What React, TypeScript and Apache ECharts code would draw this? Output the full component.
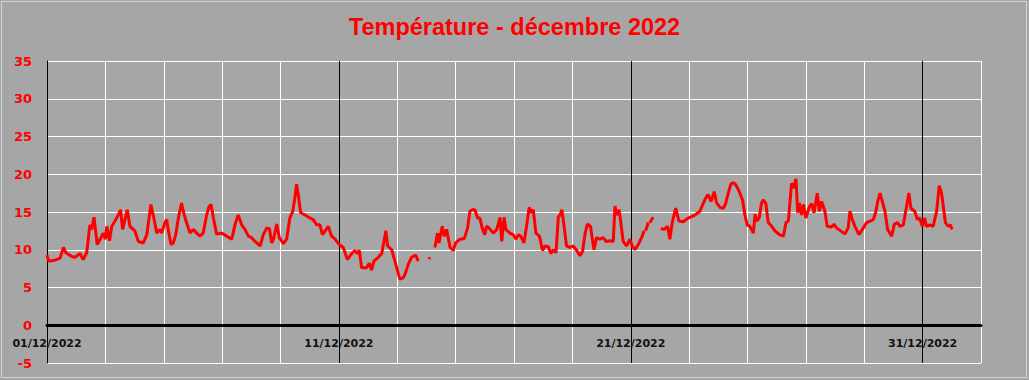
import React, { useEffect, useRef } from "react";
import * as echarts from "echarts";

const TITLE = "Température - décembre 2022";

// x positions in days since 01/12/2022 00:00
const xTickDays = [0, 10, 20, 30];
const xTickLabels = ["01/12/2022", "11/12/2022", "21/12/2022", "31/12/2022"];

const days = [
  0.0, 0.05, 0.1, 0.25, 0.45, 0.56, 0.65, 0.73, 0.85, 0.96, 1.13, 1.24, 1.36, 1.47, 1.53, 1.61, 1.72, 1.82, 1.93, 2.0,
  2.05, 2.14, 2.22, 2.33, 2.44, 2.52, 2.59, 2.75, 2.84, 3.01, 3.13, 3.3, 3.42, 3.56, 3.66, 3.76, 3.87, 3.93, 4.04, 4.1,
  4.16, 4.25, 4.33, 4.41, 4.5, 4.61, 4.67, 4.78, 4.9, 5.01, 5.13, 5.24, 5.35, 5.47, 5.55, 5.62, 5.7, 5.81, 5.98, 6.16,
  6.33, 6.44, 6.55, 6.67, 6.78, 6.9, 7.01, 7.13, 7.3, 7.41, 7.53, 7.62, 7.7, 7.76, 7.87, 7.96, 8.1, 8.21, 8.32, 8.42,
  8.49, 8.55, 8.61, 8.69, 8.84, 9.01, 9.12, 9.24, 9.35, 9.44, 9.64, 9.75, 9.87, 10.01, 10.15, 10.29, 10.44, 10.55, 10.62, 10.7,
  10.78, 10.95, 11.04, 11.12, 11.2, 11.35, 11.47, 11.61, 11.67, 11.81, 11.92, 12.01, 12.09, 12.21, 12.29, 12.38, 12.49, 12.63, 12.72, 12.9,
  13.08, 13.12, 13.2, 13.29, 13.38, 13.43, 13.54, 13.61, 13.69, 13.81, 13.92, 14.0, 14.15, 14.3, 14.41, 14.49, 14.57, 14.66, 14.75, 14.83,
  14.91, 15.0, 15.06, 15.14, 15.29, 15.41, 15.52, 15.58, 15.66, 15.72, 15.86, 15.97, 16.07, 16.15, 16.23, 16.34, 16.43, 16.52, 16.6, 16.66,
  16.75, 16.87, 16.98, 17.06, 17.18, 17.26, 17.35, 17.44, 17.52, 17.58, 17.64, 17.71, 17.8, 17.92, 18.03, 18.15, 18.26, 18.35, 18.43, 18.51,
  18.62, 18.74, 18.83, 18.94, 19.06, 19.15, 19.29, 19.4, 19.46, 19.52, 19.6, 19.66, 19.74, 19.86, 19.97, 20.05, 20.14, 20.26, 20.37, 20.46,
  20.48, 20.51, 20.6, 20.62, 20.65, 20.77, 20.9, 21.03, 21.14, 21.26, 21.34, 21.42, 21.54, 21.65, 21.8, 21.97, 22.2, 22.37, 22.48, 22.56,
  22.65, 22.75, 22.86, 22.94, 23.06, 23.17, 23.25, 23.34, 23.43, 23.52, 23.6, 23.72, 23.83, 23.91, 23.99, 24.08, 24.2, 24.26, 24.32, 24.4,
  24.48, 24.55, 24.63, 24.71, 24.83, 24.94, 25.09, 25.23, 25.32, 25.4, 25.51, 25.58, 25.66, 25.72, 25.78, 25.85, 25.92, 26.0, 26.12, 26.2,
  26.28, 26.39, 26.46, 26.54, 26.65, 26.73, 26.88, 26.96, 27.05, 27.19, 27.34, 27.45, 27.51, 27.59, 27.68, 27.82, 27.97, 28.08, 28.2, 28.31,
  28.39, 28.46, 28.54, 28.62, 28.71, 28.8, 28.94, 29.03, 29.14, 29.22, 29.34, 29.42, 29.53, 29.6, 29.73, 29.82, 29.9, 29.99, 30.07, 30.13,
  30.25, 30.36, 30.48, 30.57, 30.65, 30.7, 30.78, 30.88, 30.95, 31.01,
];

const temps = [
  9.3, 8.6, 8.5, 8.6, 8.9, 10.3, 9.6, 9.4, 9.1, 9.0, 9.5, 8.7, 9.6, 13.3, 12.7, 14.3, 10.7, 11.4, 12.2, 11.4,
  13.1, 11.2, 13.1, 13.8, 14.6, 15.3, 12.7, 15.3, 13.1, 12.5, 11.1, 10.9, 12.0, 16.0, 14.2, 12.2, 12.7, 12.2, 13.6, 14.0,
  12.5, 10.7, 10.9, 12.0, 14.2, 16.2, 15.1, 13.6, 12.2, 12.7, 12.2, 11.8, 12.2, 14.6, 15.7, 16.0, 14.2, 12.1, 12.2, 11.8,
  11.4, 13.3, 14.6, 13.3, 12.7, 11.8, 11.6, 11.1, 10.5, 12.0, 12.9, 12.8, 10.9, 11.4, 13.4, 11.6, 10.8, 11.4, 14.2, 15.1,
  16.8, 18.7, 17.3, 14.9, 14.6, 14.2, 14.0, 13.3, 13.3, 12.0, 13.1, 11.8, 11.4, 10.7, 10.3, 8.7, 9.5, 9.9, 9.5, 9.9,
  7.6, 7.6, 8.2, 7.3, 8.5, 9.0, 9.5, 12.5, 10.5, 10.0, 8.5, 7.2, 6.1, 6.3, 7.0, 8.1, 9.0, 9.3, 8.5, null,
  8.8, 9.0, null, 10.3, 12.2, 10.9, 13.1, 11.8, 12.7, 10.3, 9.9, 10.9, 11.4, 11.5, 12.9, 15.1, 15.3, 15.3, 14.2, 14.2,
  12.9, 12.0, 13.1, 12.9, 12.2, 12.7, 14.3, 11.1, 14.3, 12.7, 12.2, 12.0, 11.4, 12.0, 11.8, 10.9, 13.1, 15.6, 14.9, 15.3,
  12.2, 11.8, 9.9, 10.5, 10.4, 9.5, 10.0, 9.6, 14.4, 14.6, 15.3, 13.3, 10.5, 10.3, 10.5, 9.9, 9.2, 9.8, 12.0, 13.4,
  13.1, 10.0, 11.6, 11.4, 11.6, 11.1, 11.2, 11.1, 15.8, 14.6, 15.3, 13.6, 11.1, 10.5, 11.4, 10.5, 10.0, 10.7, 11.6, 12.5,
  null, 12.5, 13.6, null, 13.6, 14.3, null, 12.8, 12.7, 13.1, 11.4, 13.6, 15.5, 13.8, 13.7, 14.2, 14.6, 15.1, 16.1, 16.8,
  17.3, 16.4, 17.7, 16.2, 15.6, 15.5, 16.1, 17.5, 18.7, 18.9, 18.6, 17.7, 16.6, 14.6, 13.3, 13.1, 12.2, 14.7, 13.8, 14.2,
  16.2, 16.6, 16.1, 13.6, 13.1, 12.5, 12.0, 11.8, 13.6, 13.8, 18.8, 18.2, 19.4, 14.9, 16.2, 14.6, 16.0, 14.2, 15.7, 16.1,
  14.9, 17.5, 15.1, 16.4, 15.1, 13.1, 13.0, 13.4, 12.9, 12.5, 12.1, 12.9, 15.1, 14.0, 13.1, 12.0, 12.9, 13.6, 13.8, 14.0,
  14.9, 16.4, 17.5, 16.4, 15.1, 12.7, 11.8, 13.4, 13.6, 13.1, 13.3, 15.1, 17.5, 15.5, 15.1, 14.0, 14.2, 13.1, 14.2, 13.1,
  13.3, 13.1, 15.1, 18.5, 17.5, 16.0, 13.6, 13.1, 13.3, 12.7,
];

export default function App() {
  const ref = useRef<HTMLDivElement>(null);

  useEffect(() => {
    document.body.style.margin = "0";
    if (!ref.current) return;
    const chart = echarts.init(ref.current, undefined, { renderer: "svg" });
    const data = days.map((d, i) => [d, temps[i] === null ? "-" : temps[i]]);
    const labelFormatter = (v: number) => {
      const idx = xTickDays.indexOf(v);
      return idx >= 0 ? xTickLabels[idx] : "";
    };
    const option: any = {
      animation: false,
      backgroundColor: "#a6a6a6",
      title: {
        text: TITLE,
        left: "center",
        top: 10,
        textStyle: {
          color: "#ff0000",
          fontWeight: "bold",
          fontSize: 23.5,
          fontFamily: "Liberation Sans",
        },
      },
      graphic: [
        {
          type: "rect",
          shape: { x: 1.5, y: 1.5, width: 1025, height: 376 },
          style: { fill: "none", stroke: "#d4d4d4", lineWidth: 1 },
          silent: true,
        },
      ],
      grid: {
        left: 47,
        top: 61,
        width: 934,
        height: 302,
        containLabel: false,
        outerBoundsMode: "none",
      },
      xAxis: [
        {
          type: "value",
          min: 0,
          max: 32,
          interval: 2,
          position: "bottom",
          axisLine: { show: true, onZero: true, lineStyle: { color: "#000000", width: 3 } },
          axisTick: { show: false },
          axisLabel: { show: false },
          splitLine: {
            show: true,
            lineStyle: {
              color: ["#000000", "#ffffff", "#ffffff", "#ffffff", "#ffffff"],
              width: 1,
            },
          },
        },
        {
          type: "value",
          min: 0,
          max: 32,
          interval: 2,
          position: "bottom",
          offset: -38,
          axisLine: { show: false, onZero: false },
          axisTick: { show: false },
          splitLine: { show: false },
          axisLabel: {
            margin: 13,
            color: "#111111",
            fontWeight: "bold",
            fontSize: 11,
            fontFamily: "DejaVu Sans",
            formatter: labelFormatter,
          },
        },
      ],
      yAxis: {
        type: "value",
        min: -5,
        max: 35,
        interval: 5,
        axisLine: { show: true, onZero: false, lineStyle: { color: "#000000", width: 1 } },
        axisTick: { show: false },
        axisLabel: {
          margin: 15,
          color: "#ff0000",
          fontWeight: "bold",
          fontSize: 13,
          fontFamily: "DejaVu Sans",
        },
        splitLine: { show: true, lineStyle: { color: "#ffffff", width: 1 } },
      },
      series: [
        {
          type: "line",
          data,
          xAxisIndex: 0,
          showSymbol: false,
          connectNulls: false,
          lineStyle: { color: "#ff0000", width: 3 },
          itemStyle: { color: "#ff0000" },
          z: 3,
        },
      ],
    };
    chart.setOption(option);
    return () => chart.dispose();
  }, []);

  return <div ref={ref} style={{ width: 1029, height: 380 }} />;
}
